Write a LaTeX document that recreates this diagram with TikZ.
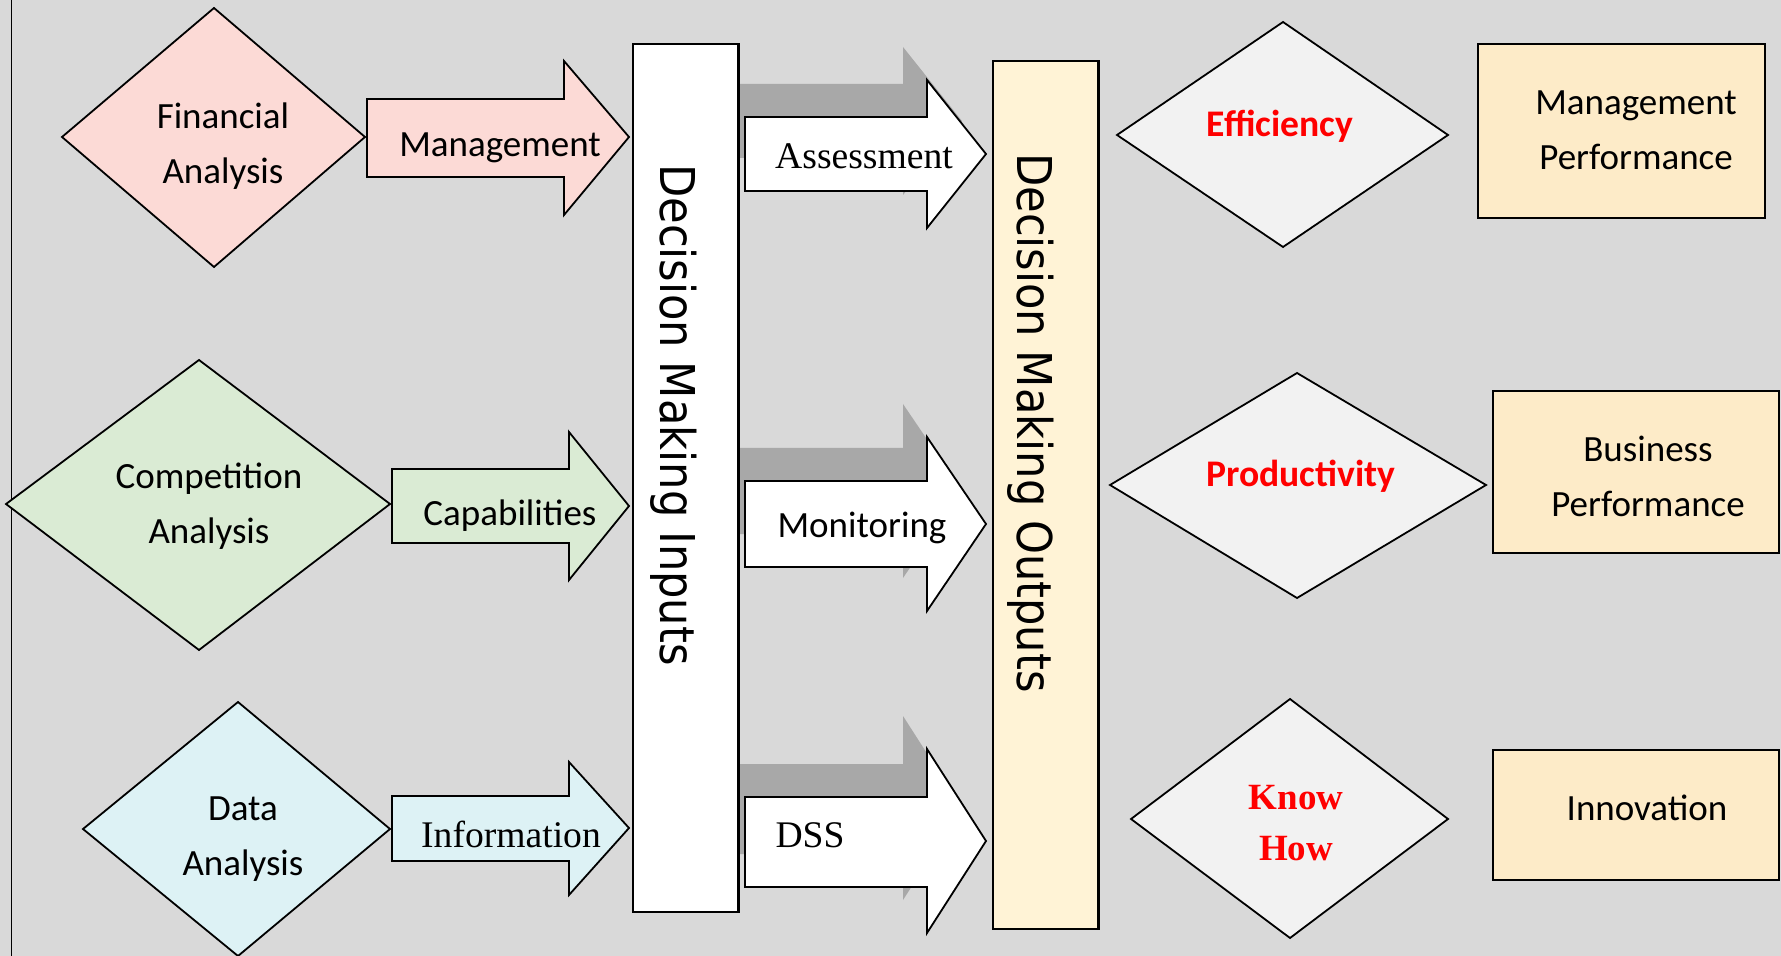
\documentclass[tikz,border=0pt]{standalone}
\usepackage{fontspec}
\setmainfont{Liberation Serif}
\newfontfamily\calibri{Carlito}
\newfontfamily\widesans{DejaVu Sans}

\definecolor{bggray}{HTML}{D9D9D9}
\definecolor{finpink}{HTML}{FCDAD6}
\definecolor{compgreen}{HTML}{DAEBD4}
\definecolor{datacyan}{HTML}{DDF2F5}
\definecolor{outgray}{HTML}{F2F2F2}
\definecolor{outcream}{HTML}{FFF3D6}
\definecolor{perfyellow}{HTML}{FDEBC8}
\definecolor{shadowgray}{HTML}{A8A8A8}

\tikzset{
    outline/.style={draw=black, line width=0.9pt, line join=miter},
    boxline/.style={draw=black, line width=1.4pt},
    sanslabel/.style={font=\calibri\fontsize{18.5}{27.5}\selectfont, align=center, inner sep=0pt},
    seriflabel/.style={font=\fontsize{18.8}{26}\selectfont, inner sep=0pt},
    redsans/.style={font=\calibri\bfseries\fontsize{18.8}{27.5}\selectfont, text=red, inner sep=0pt},
    redserif/.style={font=\bfseries\fontsize{18.5}{25.5}\selectfont, text=red, align=center, inner sep=0pt},
    sidetitle/.style={font=\widesans\fontsize{24}{28}\selectfont, rotate=-90, inner sep=0pt},
}

\begin{document}
\begin{tikzpicture}[x=0.5pt, y=-0.5pt]
    % Background and the thin frame line on the left
    \fill[bggray] (0,0) rectangle (1781,956);
    \useasboundingbox (0,0) rectangle (1781,956);
    \draw[black, line width=0.6pt] (11.5,0) -- (11.5,956);

    % Draw the three analysis diamonds
    \draw[outline, fill=finpink] (214,8) -- (365,137) -- (214,267) -- (62,137) -- cycle;
    \draw[outline, fill=compgreen] (199,360) -- (390,504) -- (199,650) -- (6,504) -- cycle;
    \draw[outline, fill=datacyan] (238,702) -- (390,829) -- (238,956) -- (83,829) -- cycle;

    % Draw the arrows into the inputs
    \draw[outline, fill=finpink] (367,99) -- (564,99) -- (564,61) -- (629,137) -- (564,215) -- (564,177) -- (367,177) -- cycle;
    \draw[outline, fill=compgreen] (392,469) -- (569,469) -- (569,432) -- (629,506) -- (569,580) -- (569,543) -- (392,543) -- cycle;
    \draw[outline, fill=datacyan] (392,796) -- (569,796) -- (569,762) -- (629,828) -- (569,895) -- (569,861) -- (392,861) -- cycle;

    % Shadows of the middle arrows
    \fill[shadowgray] (721,84) -- (903,84) -- (903,47) -- (962,121) -- (903,195) -- (903,158) -- (721,158) -- cycle;
    \fill[shadowgray] (721,448) -- (903,448) -- (903,404) -- (962,491) -- (903,578) -- (903,534) -- (721,534) -- cycle;
    \fill[shadowgray] (721,764) -- (903,764) -- (903,716) -- (962,808) -- (903,900) -- (903,854) -- (721,854) -- cycle;

    % The inputs column
    \draw[boxline, fill=white] (633,44) rectangle (738.5,912);

    % Draw the middle arrows
    \draw[outline, fill=white] (745,117) -- (927,117) -- (927,80) -- (986,154) -- (927,228) -- (927,191) -- (745,191) -- cycle;
    \draw[outline, fill=white] (745,481) -- (927,481) -- (927,437) -- (986,524) -- (927,611) -- (927,567) -- (745,567) -- cycle;
    \draw[outline, fill=white] (745,797) -- (927,797) -- (927,749) -- (986,841) -- (927,933) -- (927,887) -- (745,887) -- cycle;

    % The outputs column
    \draw[boxline, fill=outcream] (993,61) rectangle (1098.5,929);

    % Draw the three output diamonds
    \draw[outline, fill=outgray] (1283,22) -- (1448,135) -- (1283,247) -- (1117,135) -- cycle;
    \draw[outline, fill=outgray] (1297,373) -- (1486,485) -- (1297,598) -- (1110,485) -- cycle;
    \draw[outline, fill=outgray] (1290,699) -- (1448,819) -- (1290,938) -- (1131,819) -- cycle;

    % Draw the performance boxes
    \draw[boxline, fill=perfyellow] (1478,44) rectangle (1765,218);
    \draw[boxline, fill=perfyellow] (1493,391) rectangle (1779,553);
    \draw[boxline, fill=perfyellow] (1493,750) rectangle (1779,880);

    % Labels on the left
    \node[sanslabel] (finan) at (223,146) {Financial\\Analysis};
    \node[sanslabel] (compet) at (209,506) {Competition\\Analysis};
    \node[sanslabel] (dataan) at (243,839) {Data\\Analysis};
    \node[sanslabel] (mgmt) at (500,148) {Management};
    \node[sanslabel] (capab) at (510,516) {Capabilities};
    \node[seriflabel] (inform) at (511,834) {Information};

    % Labels of the columns
    \node[sidetitle] (inputs) at (674,415) {\scalebox{0.9}[1]{Decision Making Inputs}};
    \node[sidetitle] (outputs) at (1031,423) {\scalebox{0.9}[1]{Decision Making Outputs}};

    % Labels in the middle arrows
    \node[seriflabel] (assess) at (864,156) {Assessment};
    \node[sanslabel] (monit) at (862,528) {Monitoring};
    \node[seriflabel] (dss) at (810,835) {DSS};

    % Labels on the right
    \node[redsans] (effic) at (1280,126) {Efficiency};
    \node[redsans] (produ) at (1301,476) {Productivity};
    \node[redserif] (knowhow) at (1296,823) {Know\\How};
    \node[sanslabel] (mgmtperf) at (1636,130) {Management\\Performance};
    \node[sanslabel] (busperf) at (1648,476) {Business\\Performance};
    \node[sanslabel] (innov) at (1647,808) {Innovation};
\end{tikzpicture}
\end{document}
